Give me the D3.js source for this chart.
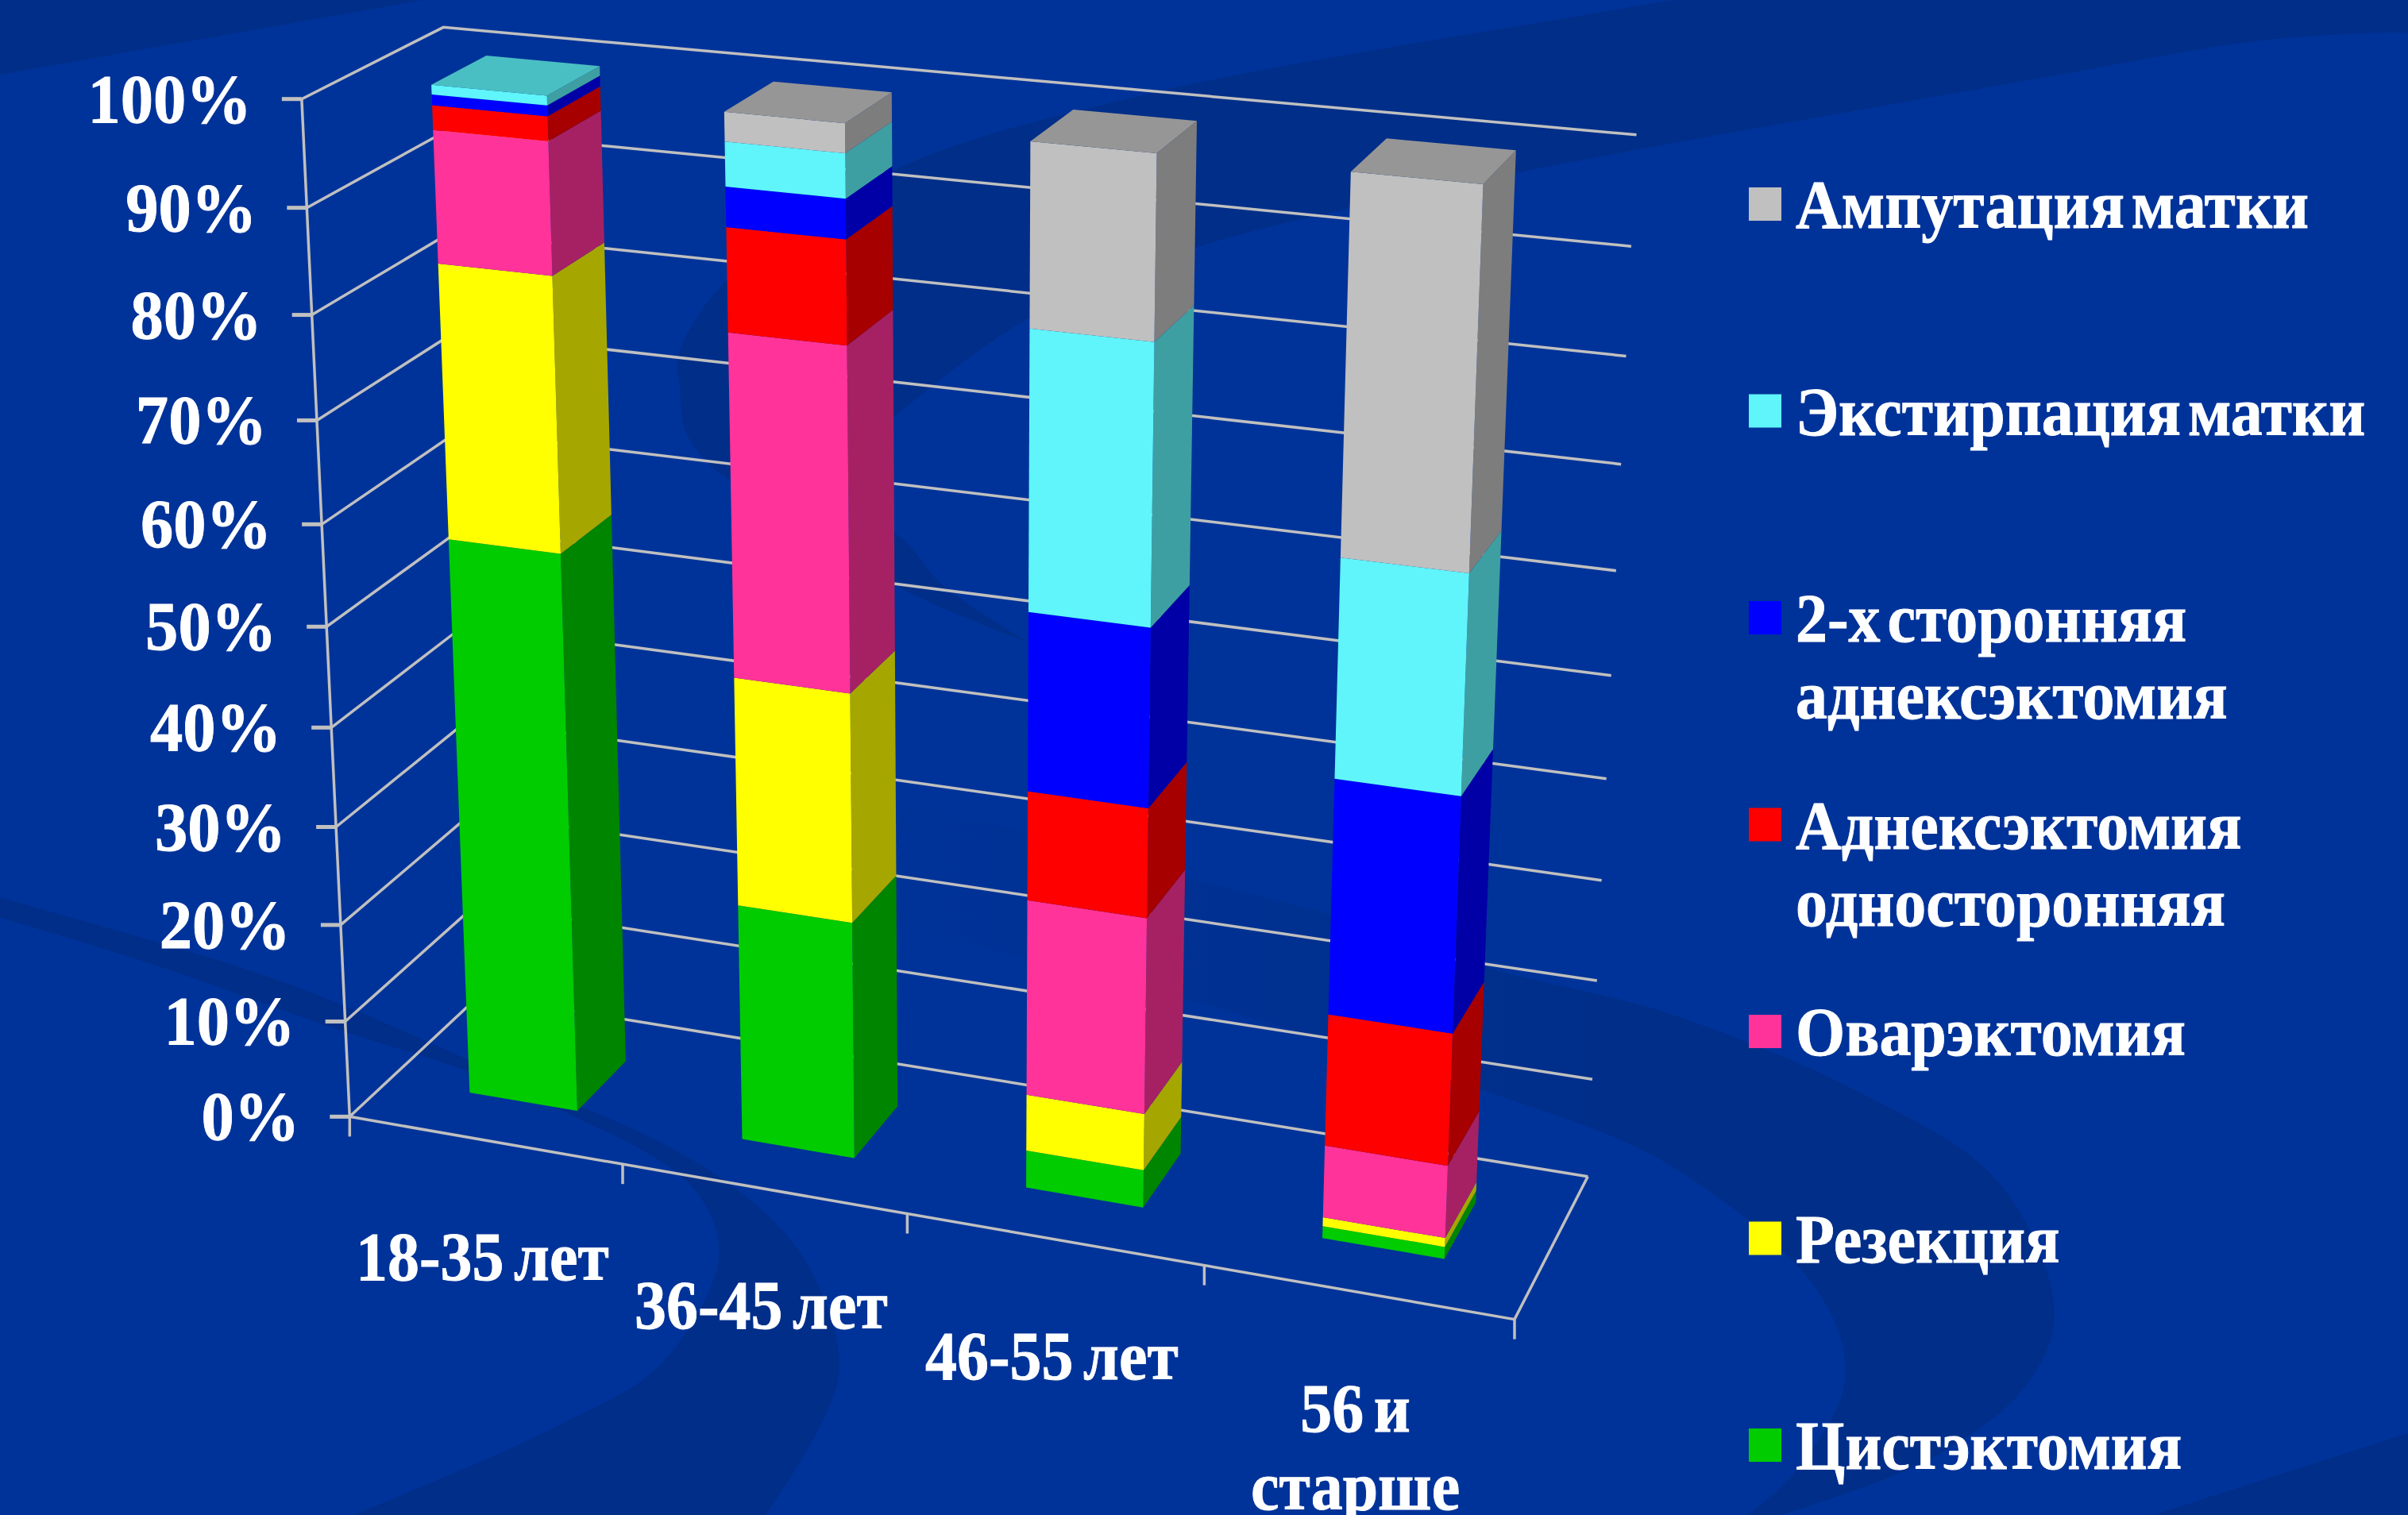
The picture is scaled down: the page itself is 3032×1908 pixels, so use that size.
<!DOCTYPE html>
<html lang="ru">
<head>
<meta charset="utf-8">
<title>Операции по возрастным группам</title>
<script src="https://cdn.jsdelivr.net/npm/d3@7/dist/d3.min.js"></script>
<style>
  html, body { margin: 0; padding: 0; background: #003399; overflow: hidden; }
  text { font-family: "Liberation Serif", serif; font-weight: 700; fill: #fff; stroke: #fff; stroke-width: 0.9px; }
</style>
</head>
<body>
<svg id="chart" width="3032" height="1908" xmlns="http://www.w3.org/2000/svg"></svg>
<script>
// Age groups along the floor of the chart
const categories = ["18-35 лет", "36-45 лет", "46-55 лет", "56 и старше"];
const categoryLines = [["18-35 лет"], ["36-45 лет"], ["46-55 лет"], ["56 и", "старше"]];

// Share of each operation per age group, percent, bottom of the stack first
const cystectomy   = [56.7, 24.1,  3.8,  1.2];
const resection    = [26.6, 22.7,  5.7,  0.9];
const ovariectomy  = [12.5, 33.0, 19.5,  7.2];
const adnexOne     = [ 2.3,  9.75, 10.7, 13.0];
const adnexBoth    = [ 1.0,  3.7, 17.2, 22.7];
const extirpation  = [ 0.9,  4.1, 26.3, 20.6];
const amputation   = [ 0.0,  2.7, 16.8, 34.4];

const seriesKeys = ["cystectomy", "resection", "ovariectomy", "adnexOne", "adnexBoth", "extirpation", "amputation"];
const seriesValues = [cystectomy, resection, ovariectomy, adnexOne, adnexBoth, extirpation, amputation];
const seriesColors = ["#00cc00", "#ffff00", "#ff3399", "#ff0000", "#0000ff", "#5ff5fa", "#c0c0c0"];

// Legend entries from top to bottom
const legendLines = [
  ["Ампутация матки"],
  ["Экстирпация матки"],
  ["2-х сторонняя", "аднексэктомия"],
  ["Аднексэктомия", "односторонняя"],
  ["Оварэктомия"],
  ["Резекция"],
  ["Цистэктомия"]
];
const legendColors = seriesColors.slice().reverse();

const valueTicks = d3.range(0, 101, 10);

// Camera calibration: known positions of the chart box on the page.
// Each row is [category position, value fraction, depth, page x, page y].
const boxLeftEdge = [[124,381],[262.5,386],[397,391],[530,399],[661,405],[790,411],[916,417],[1041,423],[1163,429],[1286,435],[1407,440]];
const boxRightEdge = [[1482,1999],[1360,2004.6],[1235,2011],[1108.5,2016.5],[981,2023],[851,2028.4],[719,2034.7],[584,2041],[448,2047],[310,2054],[170,2061]];
const cameraAnchors = [
  ...boxLeftEdge.map(([y, x], i) => [0, 1 - i / 10, 0, x, y]),
  ...boxRightEdge.map(([y, x], i) => [4, i / 10, 1, x, y]),
  [1, 0, 0, 784, 1466], [2, 0, 0, 1143, 1530], [3, 0, 0, 1517, 1593], [4, 0, 0, 1907, 1661],
  [0, 1, 1, 559, 34]
];

// Least-squares fit of a 3x4 projection matrix with its last entry fixed at 1
function fitProjection(anchors) {
  const rows = [], rhs = [];
  anchors.forEach(([u, v, w, x, y]) => {
    const sx = x / 1000, sy = y / 1000;
    rows.push([u, v, w, 1, 0, 0, 0, 0, -sx * u, -sx * v, -sx * w]); rhs.push(sx);
    rows.push([0, 0, 0, 0, u, v, w, 1, -sy * u, -sy * v, -sy * w]); rhs.push(sy);
  });
  const n = 11;
  const A = d3.range(n).map(i => d3.range(n + 1).map(j =>
    j < n ? d3.sum(rows, r => r[i] * r[j]) : d3.sum(rows, (r, k) => r[i] * rhs[k])));
  for (let c = 0; c < n; c++) {
    let p = c;
    for (let r = c + 1; r < n; r++) if (Math.abs(A[r][c]) > Math.abs(A[p][c])) p = r;
    [A[c], A[p]] = [A[p], A[c]];
    for (let r = 0; r < n; r++) {
      if (r === c) continue;
      const f = A[r][c] / A[c][c];
      for (let k = c; k <= n; k++) A[r][k] -= f * A[c][k];
    }
  }
  return A.map((row, i) => row[n] / row[i]);
}
const m = fitProjection(cameraAnchors);
function project(u, v, w) {
  const d = m[8] * u + m[9] * v + m[10] * w + 1;
  return [1000 * (m[0] * u + m[1] * v + m[2] * w + m[3]) / d,
          1000 * (m[4] * u + m[5] * v + m[6] * w + m[7]) / d];
}

// Scales working in box coordinates, before projection
const xBand = d3.scaleBand().domain(categories).range([0, 4]).paddingInner(0.6).paddingOuter(0.3);
const xStep = d3.scaleBand().domain(categories).range([0, 4]);
const yValue = d3.scaleLinear().domain([0, 100]).range([0, 1]);
const depthBand = d3.scaleBand().domain(["bar"]).range([0, 1]).paddingInner(0.6).paddingOuter(0.3);

const stackRows = categories.map((c, i) => {
  const row = { category: c };
  seriesKeys.forEach((k, s) => { row[k] = seriesValues[s][i]; });
  return row;
});
const stacked = d3.stack().keys(seriesKeys)(stackRows);

const svg = d3.select("#chart");
const line = d3.line();
const smooth = d3.line().curve(d3.curveCatmullRom.alpha(0.5));

// ----- Slide backdrop: dark swooshes on the blue field -----
const dark = "#002e89";
const defs = svg.append("defs");
const fade = defs.append("linearGradient").attr("id", "bandFade")
  .attr("gradientUnits", "userSpaceOnUse").attr("x1", 1050).attr("y1", 0).attr("x2", 2050).attr("y2", 0);
fade.append("stop").attr("offset", 0).attr("stop-color", dark).attr("stop-opacity", 0);
fade.append("stop").attr("offset", 0.5).attr("stop-color", dark).attr("stop-opacity", 0.45);
fade.append("stop").attr("offset", 1).attr("stop-color", dark).attr("stop-opacity", 1);

const backdrop = svg.append("g");
const twoEdges = (a, b) => smooth(a) + "L" + smooth(b).slice(1) + "Z";

backdrop.append("path").attr("fill", dark).attr("d", line([[0, 0], [533, 0], [0, 94]]) + "Z");
backdrop.append("path").attr("fill", dark).attr("d", line([[3032, 1805], [2712, 1908], [3032, 1908]]) + "Z");

// Upper crescent sweeping from the top right behind the second column
backdrop.append("path").attr("fill", dark).attr("d", twoEdges(
  [[2105, 0], [2000, 18], [1456, 116], [1126, 214], [918, 350], [855, 445], [856, 487], [865, 547], [918, 604], [1126, 671], [1186, 736], [1295, 809]],
  [[1295, 809], [1126, 736], [1000, 640], [1126, 525], [1295, 401], [1505, 312], [1905, 219], [2000, 200], [2560, 100], [2856, 50], [3040, 40]]
));
backdrop.append("path").attr("fill", dark).attr("d", line([[2105, 0], [3040, -2], [3040, 42]]) + "Z");

// Lower left swoosh
backdrop.append("path").attr("fill", dark).attr("d", twoEdges(
  [[-5, 1129], [302, 1218], [434, 1267], [631, 1353], [842, 1444], [961, 1525], [1024, 1606], [1056, 1733], [961, 1912]],
  [[435, 1912], [702, 1796], [835, 1715], [905, 1579], [870, 1493], [708, 1399], [589, 1349], [421, 1295], [191, 1214], [-5, 1154]]
));

// Lower right swoosh, fading out towards the chart centre
backdrop.append("path").attr("fill", "url(#bandFade)").attr("d", twoEdges(
  [[1000, 985], [1126, 1012], [1295, 1048], [1491, 1104], [1673, 1151], [1870, 1218], [2100, 1276], [2350, 1380], [2516, 1488], [2587, 1652], [2552, 1744], [2433, 1836], [2230, 1912]],
  [[2195, 1912], [2260, 1854], [2323, 1738], [2290, 1628], [2100, 1466], [1870, 1374], [1673, 1311], [1491, 1258], [1295, 1209], [1130, 1164], [1000, 1130]]
));

// ----- Chart box: walls, floor, gridlines and ticks -----
const grid = svg.append("g").attr("fill", "none").attr("stroke", "#c0c0c0").attr("stroke-width", 3.5);
const gridPath = pts => grid.append("path").attr("d", line(pts));

valueTicks.forEach(t => {
  const v = yValue(t);
  gridPath([project(0, v, 0), project(0, v, 1), project(4, v, 1)]);
});
gridPath([project(0, 0, 0), project(0, 1, 0)]);
gridPath([project(0, 0, 0), project(4, 0, 0), project(4, 0, 1)]);

valueTicks.forEach(t => {
  const [x, y] = project(0, yValue(t), 0);
  gridPath([[x - 25, y], [x, y]]).attr("stroke-width", 5);
});
d3.range(0, 5).forEach(u => {
  const [x, y] = project(u, 0, 0);
  gridPath([[x, y], [x, y + 25]]);
});

// ----- Stacked columns: front, side, and a lid on the top segment -----
const shade = (c, k) => { const r = d3.rgb(c); return d3.rgb(r.r * k, r.g * k, r.b * k).formatHex(); };
const w0 = depthBand("bar"), w1 = w0 + depthBand.bandwidth();
const columns = svg.append("g");
categories.forEach((cat, i) => {
  const u0 = xBand(cat), u1 = u0 + xBand.bandwidth();
  const col = columns.append("g");
  let topColor = null;
  stacked.forEach((layer, s) => {
    const [lo, hi] = layer[i];
    if (hi - lo <= 0) return;
    topColor = seriesColors[s];
    const a = yValue(lo), b = yValue(hi);
    col.append("path").attr("fill", shade(seriesColors[s], 0.65))
      .attr("d", line([project(u1, a, w0), project(u1, a, w1), project(u1, b, w1), project(u1, b, w0)]) + "Z");
    col.append("path").attr("fill", seriesColors[s])
      .attr("d", line([project(u0, a, w0), project(u1, a, w0), project(u1, b, w0), project(u0, b, w0)]) + "Z");
  });
  const total = d3.max(stacked, layer => layer[i][1]);
  const t = yValue(total);
  col.append("path").attr("fill", shade(topColor, 0.78))
    .attr("d", line([project(u0, t, w0), project(u1, t, w0), project(u1, t, w1), project(u0, t, w1)]) + "Z");
});

// ----- Text: value axis, categories, legend -----
const fontSize = 86;
const label = (parent, x, y, str, anchor, stretch) => parent.append("text")
  .attr("transform", `translate(${x},${y}) scale(${stretch},1)`)
  .attr("text-anchor", anchor).attr("font-size", fontSize).text(str);

const texts = svg.append("g");
const tickFormat = d => d3.format("d")(d) + "%";
valueTicks.forEach(t => {
  const [x, y] = project(0, yValue(t), 0);
  label(texts, x - 63, y + 29, tickFormat(t), "end", 0.96);
});

categories.forEach((cat, i) => {
  const [x, y] = project(xStep(cat) + xStep.bandwidth() / 2, 0, 0);
  categoryLines[i].forEach((str, l) => label(texts, x - 3, y + 176 + l * 97.5, str, "middle", 0.93).attr("word-spacing", -8));
});

const legendY = d3.scalePoint().domain(d3.range(legendLines.length)).range([236, 1799]);
const legend = svg.append("g");
legendLines.forEach((lines, i) => {
  const top = legendY(i);
  legend.append("rect").attr("x", 2202).attr("y", top).attr("width", 41).attr("height", 42).attr("fill", legendColors[i]);
  lines.forEach((str, l) => label(legend, 2261, top + 51 + l * 97, str, "start", 0.93).attr("word-spacing", -12));
});
</script>
</body>
</html>
